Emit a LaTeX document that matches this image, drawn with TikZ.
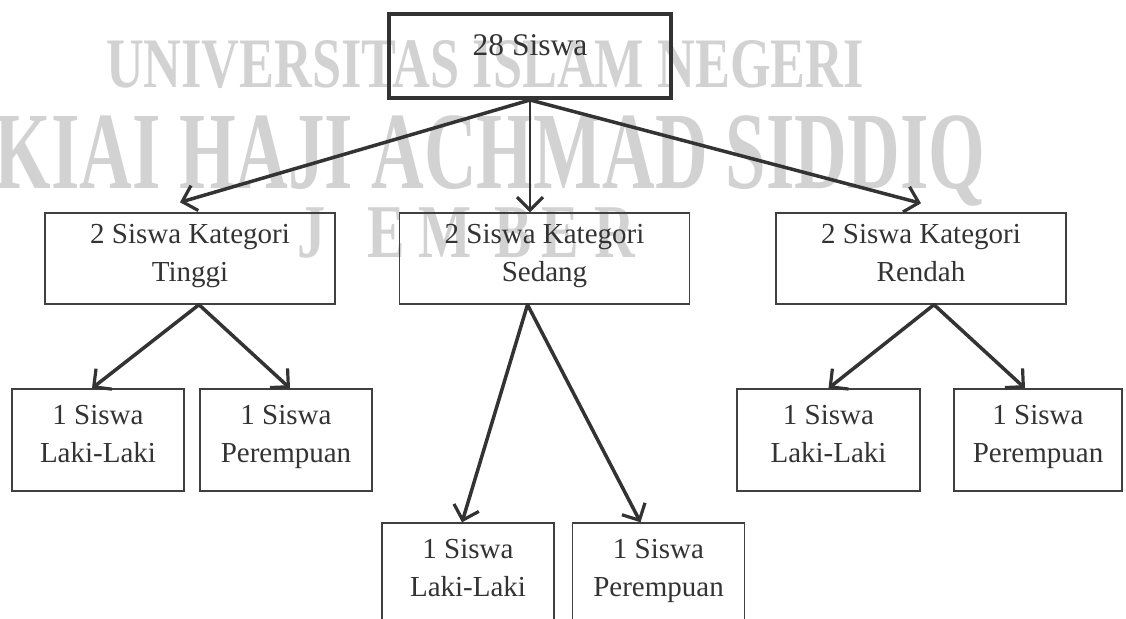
\documentclass[tikz,border=0pt]{standalone}
\usepackage{fontspec}
\setmainfont{Liberation Serif}
\usetikzlibrary{arrows.meta,positioning}

\definecolor{inkgray}{HTML}{333333}
\definecolor{linegray}{HTML}{404040}
\definecolor{markgray}{HTML}{D2D2D2}

\begin{document}
\begin{tikzpicture}[
  x=1pt, y=-1pt,
  box/.style={draw=linegray, line width=1.4pt, text=inkgray, align=center, inner sep=0pt,
              font=\fontsize{29}{38}\selectfont, minimum width=290pt, minimum height=91pt,
              execute at begin node=\strut, execute at end node=\strut},
  leaf/.style={box, minimum width=172pt, minimum height=102pt},
  root/.style={box, draw=inkgray, line width=4pt, minimum width=282pt, minimum height=84pt,
               font=\fontsize{31.5}{38}\selectfont, text height=21pt, text depth=21pt},
  wmark/.style={text=markgray, inner sep=0pt, anchor=base},
  arr/.style={-{Straight Barb[length=13pt,width=26pt,line width=3.2pt]}, line width=3.5pt,
              draw=inkgray, line cap=round}
]
\useasboundingbox (0,0) rectangle (1126,618);
\clip (0,0) rectangle (1126,618);

% watermark
\node[wmark, font=\bfseries\fontsize{71}{71}\selectfont] (wm1) at (485,87)
  {\scalebox{0.737}[1]{UNIVERSITAS ISLAM NEGERI}};
\node[wmark, font=\bfseries\fontsize{110}{110}\selectfont] (wm2) at (490,188)
  {\scalebox{0.663}[1]{KIAI HAJI ACHMAD SIDDIQ}};
\foreach \ch/\cx [count=\i] in {J/312, E/386, M/445, B/513, E/560, R/615}
  \node[wmark, font=\bfseries\fontsize{76}{76}\selectfont] (wm3-\i) at (\cx,257)
    {\scalebox{0.74}[1]{\ch}};

% boxes
\node[root] (root) at (530,56) {28 Siswa};

\node[box] (tinggi) at (190,258.5) {2 Siswa Kategori\\Tinggi};
\node[box] (sedang) at (544.5,258.5) {2 Siswa Kategori\\Sedang};
\node[box] (rendah) at (921,258.5) {2 Siswa Kategori\\Rendah};

\node[leaf] (tl) at (98,440) {1 Siswa\\Laki-Laki};
\node[leaf] (tp) at (286,440) {1 Siswa\\Perempuan};
\node[leaf] (sl) at (468,574) {1 Siswa\\Laki-Laki};
\node[leaf] (sp) at (658.5,574) {1 Siswa\\Perempuan};
\node[leaf, minimum width=183pt] (rl) at (828.5,440) {1 Siswa\\Laki-Laki};
\node[leaf, minimum width=168pt] (rp) at (1038,440) {1 Siswa\\Perempuan};

% arrows
\draw[arr] (root.south) -- ([xshift=-10pt,yshift=10pt]tinggi.north);
\draw[arr, line width=2pt] (root.south) -- (root.south |- sedang.north);
\draw[arr] (root.south) -- ([yshift=9pt]rendah.north);

\draw[arr] ([xshift=9pt]tinggi.south) -- ([xshift=-6pt]tl.north);
\draw[arr] ([xshift=9pt]tinggi.south) -- ([xshift=4pt]tp.north);
\draw[arr] ([xshift=-17pt]sedang.south) -- ([xshift=-6pt]sl.north);
\draw[arr] ([xshift=-17pt]sedang.south) -- ([xshift=-18pt]sp.north);
\draw[arr] ([xshift=13pt]rendah.south) -- (rl.north);
\draw[arr] ([xshift=13pt]rendah.south) -- ([xshift=-13pt]rp.north);
\end{tikzpicture}
\end{document}
